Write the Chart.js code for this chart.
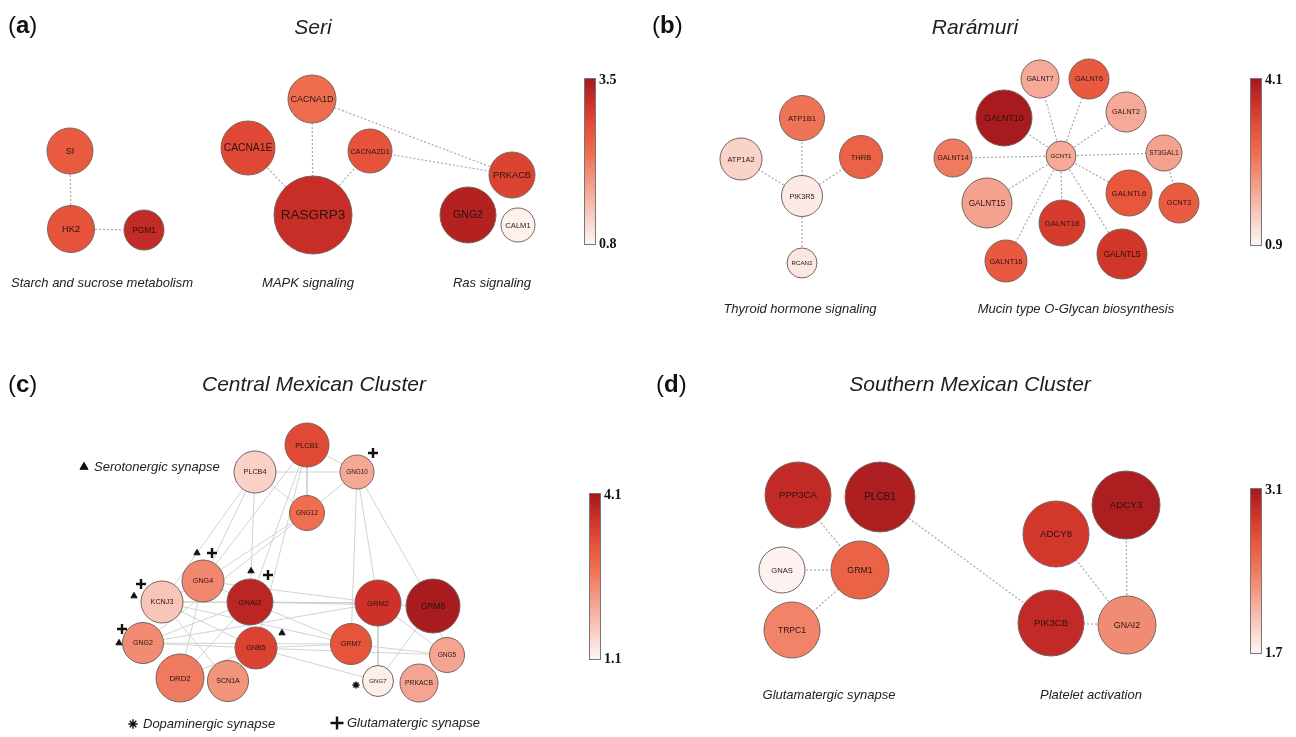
<!DOCTYPE html>
<html>
<head>
<meta charset="utf-8">
<script src="https://cdn.jsdelivr.net/npm/chart.js"></script>
<style>
  body { margin: 0; background: #fff; overflow: hidden; }
  canvas { display: block; }
</style>
</head>
<body>
<canvas id="net" width="1296" height="737"></canvas>
<script>
// ---- panel (a) Seri ----
const aGenes  = ["SI", "HK2", "PGM1", "CACNA1D", "CACNA1E", "CACNA2D1", "RASGRP3", "PRKACB", "GNG2", "CALM1"];
const aValues = [2.55, 2.65, 3.2, 2.3, 2.8, 2.65, 3.15, 2.85, 3.35, 0.85];
const aRange  = [0.8, 3.5];
const aEdges  = [["SI","HK2"], ["HK2","PGM1"], ["CACNA1D","RASGRP3"], ["CACNA1E","RASGRP3"], ["CACNA2D1","RASGRP3"],
                 ["CACNA1D","PRKACB"], ["CACNA2D1","PRKACB"]];
const aPathways = ["Starch and sucrose metabolism", "MAPK signaling", "Ras signaling"];

// ---- panel (b) Rarámuri ----
const bGenes  = ["ATP1B1", "ATP1A2", "THRB", "PIK3R5", "RCAN2", "GALNT7", "GALNT6", "GALNT10", "GALNT2", "GALNT14",
                 "GCNT1", "ST3GAL1", "GALNTL6", "GCNT3", "GALNT15", "GALNT18", "GALNT16", "GALNTL5"];
const bValues = [2.6, 1.35, 2.85, 1.05, 1.1, 1.9, 3.0, 4.05, 1.9, 2.5, 1.9, 2.0, 3.05, 2.95, 2.0, 3.45, 3.0, 3.55];
const bRange  = [0.9, 4.1];
const bEdges  = [["ATP1B1","PIK3R5"], ["ATP1A2","PIK3R5"], ["THRB","PIK3R5"], ["RCAN2","PIK3R5"],
                 ["GCNT1","GALNT7"], ["GCNT1","GALNT6"], ["GCNT1","GALNT10"], ["GCNT1","GALNT2"], ["GCNT1","GALNT14"],
                 ["GCNT1","ST3GAL1"], ["GCNT1","GALNTL6"], ["GCNT1","GALNT15"], ["GCNT1","GALNT18"], ["GCNT1","GALNT16"],
                 ["GCNT1","GALNTL5"], ["ST3GAL1","GCNT3"]];
const bPathways = ["Thyroid hormone signaling", "Mucin type O-Glycan biosynthesis"];

// ---- panel (c) Central Mexican Cluster ----
const cGenes  = ["PLCB1", "PLCB4", "GNG10", "GNG12", "GNG4", "KCNJ3", "GNAI2", "GRM2", "GRM8", "GNG2", "GNB5",
                 "GRM7", "GNG5", "DRD2", "SCN1A", "GNG7", "PRKACB"];
const cValues = [3.3, 1.55, 2.05, 2.75, 2.45, 1.7, 3.85, 3.65, 4.05, 2.4, 3.4, 3.15, 2.1, 2.6, 2.3, 1.2, 2.1];
const cRange  = [1.1, 4.1];
const cEdges  = [["PLCB4","GNG10"], ["PLCB1","GNG10"], ["PLCB1","GNG12"], ["PLCB4","GNG12"], ["GNG10","GNG12"],
                 ["PLCB1","GNG4"], ["PLCB1","GNAI2"], ["PLCB1","GNB5"], ["PLCB4","GNG4"], ["PLCB4","GNAI2"], ["PLCB4","KCNJ3"],
                 ["GNG12","GNG4"], ["GNG12","GNG2"], ["GNG10","GRM2"], ["GNG10","GRM7"], ["GNG10","GRM8"],
                 ["GNG4","GNAI2"], ["GNG4","GRM2"], ["GNG4","DRD2"], ["GNG4","KCNJ3"], ["KCNJ3","GNAI2"], ["KCNJ3","GNB5"],
                 ["KCNJ3","GRM7"], ["KCNJ3","SCN1A"], ["KCNJ3","GRM2"], ["GNAI2","GRM2"], ["GNAI2","GRM8"], ["GNAI2","GRM7"],
                 ["GNAI2","DRD2"], ["GNAI2","GNG2"], ["GNG2","GNB5"], ["GNG2","GRM2"], ["GNG2","GRM7"], ["GNB5","GNG7"],
                 ["GNB5","GRM7"], ["GNB5","GNG5"], ["GRM7","GNG5"], ["GRM2","GNG5"], ["GRM2","GNG7"], ["GRM8","GNG7"],
                 ["GRM8","GNG5"], ["DRD2","GNB5"]];
// pathway membership marks: gene, mark
const cMarks = [["GNG10","plus"], ["GNG4","tri"], ["GNG4","plus"], ["GNAI2","tri"], ["GNAI2","plus"],
                ["KCNJ3","plus"], ["KCNJ3","tri"], ["GNG2","plus"], ["GNG2","tri"], ["GNB5","tri"], ["GNG7","star"]];
const cLegend = [["tri","Serotonergic synapse"], ["star","Dopaminergic synapse"], ["plus","Glutamatergic synapse"]];

// ---- panel (d) Southern Mexican Cluster ----
const dGenes  = ["PPP3CA", "PLCB1", "GNAS", "GRM1", "TRPC1", "ADCY8", "ADCY3", "PIK3CB", "GNAI2"];
const dValues = [2.95, 3.05, 1.72, 2.55, 2.35, 2.85, 3.05, 2.95, 2.3];
const dRange  = [1.7, 3.1];
const dEdges  = [["PPP3CA","GRM1"], ["GNAS","GRM1"], ["TRPC1","GRM1"], ["PLCB1","PIK3CB"],
                 ["ADCY8","GNAI2"], ["ADCY3","GNAI2"], ["PIK3CB","GNAI2"]];
const dPathways = ["Glutamatergic synapse", "Platelet activation"];

// ---- layout (network positions in page units, node radius in px) ----
const layout = {
  a: { x: [70, 71, 144, 312, 248, 370, 313, 512, 468, 518],
       y: [151, 229, 230, 99, 148, 151, 215, 175, 215, 225],
       r: [23, 23.5, 20, 24, 27, 22, 39, 23, 28, 17],
       k: 0.27, title: "Seri", letter: "a", tx: 313, ty: 28, lx: 8, ly: 26,
       bar: [584, 78, 11, 166], path: [[102, 283], [308, 283], [492, 283]] },
  b: { x: [802, 741, 861, 802, 802, 1040, 1089, 1004, 1126, 953, 1061, 1164, 1129, 1179, 987, 1062, 1006, 1122],
       y: [118, 159, 157, 196, 263, 79, 79, 118, 112, 158, 156, 153, 193, 203, 203, 223, 261, 254],
       r: [22.5, 21, 21.5, 20.5, 15, 19, 20, 28, 20, 19, 15, 18, 23, 20, 25, 23, 21, 25],
       k: 0.21, title: "Rarámuri", letter: "b", tx: 975, ty: 28, lx: 652, ly: 26,
       bar: [1250, 78, 11, 167], path: [[800, 309], [1076, 309]] },
  c: { x: [307, 255, 357, 307, 203, 162, 250, 378, 433, 143, 256, 351, 447, 180, 228, 378, 419],
       y: [445, 472, 472, 513, 581, 602, 602, 603, 606, 643, 648, 644, 655, 678, 681, 681, 683],
       r: [22, 21, 17, 17.5, 21, 21, 23, 23, 27, 20.5, 21, 20.5, 17.5, 24, 20.5, 15.5, 19],
       k: 0.2, title: "Central Mexican Cluster", letter: "c", tx: 314, ty: 385, lx: 8, ly: 385,
       bar: [589, 493, 11, 166], path: [] },
  d: { x: [798, 880, 782, 860, 792, 1056, 1126, 1051, 1127],
       y: [495, 497, 570, 570, 630, 534, 505, 623, 625],
       r: [33, 35, 23, 29, 28, 33, 34, 33, 29],
       k: 0.2, title: "Southern Mexican Cluster", letter: "d", tx: 970, ty: 385, lx: 656, ly: 385,
       bar: [1250, 488, 11, 165], path: [[829, 695], [1091, 695]] }
};
// mark offsets from node centre, and legend anchors
const markOffset = { "GNG10plus": [16, -19], "GNG4tri": [-6, -28], "GNG4plus": [9, -28], "GNAI2tri": [1, -31],
                     "GNAI2plus": [18, -27], "KCNJ3plus": [-21, -18], "KCNJ3tri": [-28, -6], "GNG2plus": [-21, -14],
                     "GNG2tri": [-24, 0], "GNB5tri": [26, -15], "GNG7star": [-22, 4] };
const legendAnchor = [[84, 467], [133, 724], [337, 723]];

// ---- colour map ----
const cmap = [[0, [253, 246, 244]], [0.3, [245, 172, 154]], [0.55, [238, 110, 80]], [0.7, [230, 80, 56]],
              [0.85, [205, 49, 41]], [1, [163, 24, 29]]];
function colorAt(t) {
  t = Math.max(0, Math.min(1, t));
  for (let i = 1; i < cmap.length; i++) {
    if (t <= cmap[i][0]) {
      const [t0, c0] = cmap[i - 1], [t1, c1] = cmap[i];
      const f = (t - t0) / (t1 - t0);
      return `rgb(${c0.map((v, j) => Math.round(v + (c1[j] - v) * f)).join(",")})`;
    }
  }
  return `rgb(${cmap[cmap.length - 1][1].join(",")})`;
}

const panels = [
  { id: "a", genes: aGenes, values: aValues, range: aRange, edges: aEdges, pathways: aPathways, dotted: true },
  { id: "b", genes: bGenes, values: bValues, range: bRange, edges: bEdges, pathways: bPathways, dotted: true },
  { id: "c", genes: cGenes, values: cValues, range: cRange, edges: cEdges, pathways: [], dotted: false },
  { id: "d", genes: dGenes, values: dValues, range: dRange, edges: dEdges, pathways: dPathways, dotted: true }
];

const datasets = [];
panels.forEach(p => {
  const L = layout[p.id];
  const pos = g => { const i = p.genes.indexOf(g); return { x: L.x[i], y: L.y[i] }; };
  p.edges.forEach(([s, t]) => {
    datasets.push({
      type: "line", data: [pos(s), pos(t)], order: 10,
      borderColor: p.dotted ? "#a9a9a9" : "#cdcdcd", borderWidth: p.dotted ? 1.2 : 0.9,
      borderDash: p.dotted ? [2, 2] : [], pointRadius: 0, fill: false
    });
  });
  datasets.push({
    type: "bubble", label: p.id, order: 5,
    data: p.genes.map((g, i) => ({ x: L.x[i], y: L.y[i], r: L.r[i] })),
    backgroundColor: p.values.map(v => colorAt((v - p.range[0]) / (p.range[1] - p.range[0]))),
    borderColor: "#75645f", borderWidth: 1, hoverRadius: 0
  });
});

// pathway marks in panel (c)
const markStyle = {
  tri:  { pointStyle: "triangle", radius: 3.6, borderWidth: 1 },
  plus: { pointStyle: "cross", radius: 5, borderWidth: 2.4 },
  star: { pointStyle: "star", radius: 3.6, borderWidth: 1.4 }
};
["tri", "plus", "star"].forEach(m => {
  const pts = cMarks.filter(([, mk]) => mk === m).map(([g]) => {
    const i = cGenes.indexOf(g), off = markOffset[g + m];
    return { x: layout.c.x[i] + off[0], y: layout.c.y[i] + off[1] };
  });
  const li = cLegend.findIndex(([mk]) => mk === m);
  pts.push({ x: legendAnchor[li][0], y: legendAnchor[li][1] });
  datasets.push({
    type: "scatter", data: pts, order: 1,
    pointStyle: markStyle[m].pointStyle, pointRadius: pts.map((_, j) => j === pts.length - 1 ? markStyle[m].radius * 1.3 : markStyle[m].radius),
    pointBorderWidth: markStyle[m].borderWidth, pointBackgroundColor: "#111", pointBorderColor: "#111"
  });
});

const textPlugin = {
  id: "netText",
  afterDatasetsDraw(chart) {
    const ctx = chart.ctx, X = chart.scales.x, Y = chart.scales.y;
    ctx.save();
    ctx.textBaseline = "middle";
    // node labels
    chart.data.datasets.forEach((ds, di) => {
      if (ds.type !== "bubble") return;
      const p = panels.find(q => q.id === ds.label), L = layout[p.id];
      chart.getDatasetMeta(di).data.forEach((el, i) => {
        const r = L.r[i];
        let fs = 3 + r * L.k;
        ctx.font = `${fs}px "Liberation Sans", Arial, sans-serif`;
        const w = ctx.measureText(p.genes[i]).width;
        if (w > r * 1.8) { fs *= r * 1.8 / w; ctx.font = `${fs}px "Liberation Sans", Arial, sans-serif`; }
        ctx.fillStyle = "#2a1311";
        ctx.textAlign = "center";
        ctx.fillText(p.genes[i], el.x, el.y + 0.5);
      });
    });
    panels.forEach(p => {
      const L = layout[p.id];
      // panel letter
      ctx.fillStyle = "#111";
      ctx.textAlign = "left";
      let lx = X.getPixelForValue(L.lx), ly = Y.getPixelForValue(L.ly);
      ctx.font = '24px "Liberation Sans", Arial, sans-serif';
      ctx.fillText("(", lx, ly);
      lx += ctx.measureText("(").width;
      ctx.font = 'bold 24px "Liberation Sans", Arial, sans-serif';
      ctx.fillText(L.letter, lx, ly);
      lx += ctx.measureText(L.letter).width;
      ctx.font = '24px "Liberation Sans", Arial, sans-serif';
      ctx.fillText(")", lx, ly);
      // title
      ctx.textAlign = "center";
      ctx.fillStyle = "#1e1e1e";
      ctx.font = 'italic 21px "Liberation Sans", Arial, sans-serif';
      ctx.fillText(L.title, X.getPixelForValue(L.tx), Y.getPixelForValue(L.ty));
      // pathway labels
      ctx.font = 'italic 13px "Liberation Sans", Arial, sans-serif';
      ctx.fillStyle = "#222";
      p.pathways.forEach((t, i) => ctx.fillText(t, X.getPixelForValue(L.path[i][0]), Y.getPixelForValue(L.path[i][1])));
      // colour bar
      const [bx, by, bw, bh] = L.bar;
      const x0 = X.getPixelForValue(bx), y0 = Y.getPixelForValue(by);
      const g = ctx.createLinearGradient(0, y0 + bh, 0, y0);
      cmap.forEach(([t, c]) => g.addColorStop(t, `rgb(${c.join(",")})`));
      ctx.fillStyle = g;
      ctx.fillRect(x0, y0, bw, bh);
      ctx.strokeStyle = "#777";
      ctx.lineWidth = 1;
      ctx.strokeRect(x0 + 0.5, y0 + 0.5, bw, bh);
      ctx.fillStyle = "#111";
      ctx.textAlign = "left";
      ctx.font = 'bold 14px "Liberation Serif", "Times New Roman", serif';
      ctx.fillText(p.range[1].toFixed(1), x0 + bw + 4, y0 + 2);
      ctx.fillText(p.range[0].toFixed(1), x0 + bw + 4, y0 + bh);
    });
    // legend texts for (c)
    ctx.font = 'italic 13px "Liberation Sans", Arial, sans-serif';
    ctx.fillStyle = "#222";
    ctx.textAlign = "left";
    cLegend.forEach(([, t], i) => ctx.fillText(t, X.getPixelForValue(legendAnchor[i][0] + 10), Y.getPixelForValue(legendAnchor[i][1])));
    ctx.restore();
  }
};

new Chart(document.getElementById("net"), {
  type: "scatter",
  data: { datasets },
  options: {
    responsive: false,
    animation: false,
    events: [],
    layout: { padding: 0, autoPadding: false },
    scales: {
      x: { type: "linear", min: 0, max: 1296, display: false },
      y: { type: "linear", min: 0, max: 737, reverse: true, display: false }
    },
    plugins: { legend: { display: false }, tooltip: { enabled: false } }
  },
  plugins: [textPlugin]
});
</script>
</body>
</html>
